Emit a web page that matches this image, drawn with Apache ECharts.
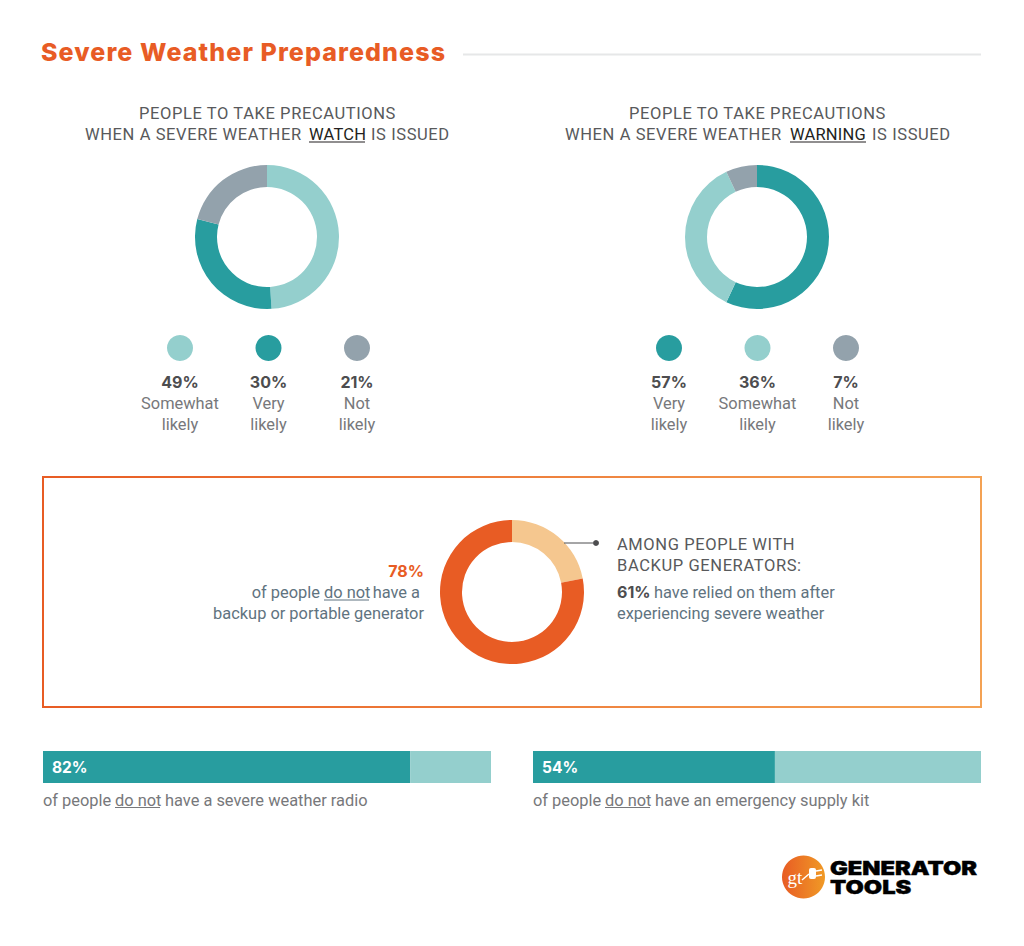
<!DOCTYPE html>
<html>
<head>
<meta charset="utf-8">
<title>Severe Weather Preparedness</title>
<style>
html, body { margin: 0; padding: 0; background: #fff; }
#main { width: 1024px; height: 946px; }
/* spaced out headings, picked by their fill */
#main text[fill="#58595b"] { letter-spacing: 0.6px; }
#main text[fill="#231f20"] { letter-spacing: 0.2px; }
#main text[fill="#e85c25"] { letter-spacing: 1.1px; }
</style>
</head>
<body>
<div id="main"></div>
<script src="https://cdn.jsdelivr.net/npm/echarts@6/dist/echarts.min.js"></script>
<script>
/* data */
var WATCH_NAMES = ['Somewhat likely', 'Very likely', 'Not likely'];
var WATCH_VALUES = [49, 30, 21];
var WARNING_NAMES = ['Very likely', 'Somewhat likely', 'Not likely'];
var WARNING_VALUES = [57, 36, 7];
var GENERATOR_NAMES = ['Have a generator', 'Do not have a generator'];
var GENERATOR_VALUES = [22, 78];
var RADIO_VALUES = [82, 18];
var KIT_VALUES = [54, 46];

/* colours */
var TEAL = '#289d9f';
var LIGHT_TEAL = '#94cfcd';
var GREY = '#93a2ac';
var ORANGE = '#e85c24';
var PEACH = '#f5c78f';
var COLORS = { 'Somewhat likely': LIGHT_TEAL, 'Very likely': TEAL, 'Not likely': GREY };

var BODY = 'Roboto, sans-serif';
var BOLD = 'Inter, sans-serif';
var HEAD_COLOR = '#58595b';
var SLATE = '#5f7380';
var MUTED = '#77787b';
var BODY_SIZE = 16.4;

function text(x, y, str, size, color, align, extra) {
	var style = {
		x: x, y: y, text: str,
		fill: color,
		font: (extra && extra.weight ? extra.weight + ' ' : '') + size + 'px ' + ((extra && extra.family) || BODY),
		textAlign: align || 'left',
		textVerticalAlign: 'middle'
	};
	return { type: 'text', z: 100, silent: true, style: style };
}

function line(x1, y1, x2, y2, color, width) {
	return { type: 'line', z: 100, silent: true, shape: { x1: x1, y1: y1, x2: x2, y2: y2 }, style: { stroke: color, lineWidth: width } };
}

function donut(center, radius, names, values, colors) {
	return {
		type: 'pie',
		center: center,
		radius: radius,
		startAngle: 90,
		clockwise: true,
		silent: true,
		label: { show: false },
		labelLine: { show: false },
		animation: false,
		data: names.map(function (n, i) {
			return { name: n, value: values[i], itemStyle: { color: colors[i] } };
		})
	};
}

function stackedBar(gridIndex, values) {
	return [TEAL, LIGHT_TEAL].map(function (c, i) {
		return {
			type: 'bar', stack: 's' + gridIndex, xAxisIndex: gridIndex, yAxisIndex: gridIndex,
			data: [values[i]], barWidth: 32, silent: true, animation: false,
			itemStyle: { color: c }
		};
	});
}

/* legend under a donut: dot, percent, two line name */
function legendRow(xs, names, values) {
	var out = [];
	names.forEach(function (n, i) {
		var p = n.split(' ');
		out.push({ type: 'circle', z: 100, silent: true, shape: { cx: xs[i], cy: 348, r: 13 }, style: { fill: COLORS[n] } });
		out.push(text(xs[i], 382, values[i] + '%', 16, '#4d4d4f', 'center', { weight: 700, family: BOLD }));
		out.push(text(xs[i], 403, p[0], BODY_SIZE, MUTED, 'center'));
		out.push(text(xs[i], 424, p[1], BODY_SIZE, MUTED, 'center'));
	});
	return out;
}

/* logo wordmark, the font is narrower than the original so it gets stretched */
function logoWord(y, str) {
	var t = text(0, 0, str, 18.5, '#000000', 'left', { weight: 900, family: BOLD });
	t.x = 830;
	t.y = y;
	t.scaleX = 1.28;
	t.style.stroke = '#000000';
	t.style.lineWidth = 0.4;
	return t;
}

var graphics = [
	text(41, 52, 'Severe Weather Preparedness', 25, '#e85c25', 'left', { weight: 800, family: BOLD }),
	line(463, 54.5, 981, 54.5, '#e6e7e8', 2),

	text(267.5, 113, 'PEOPLE TO TAKE PRECAUTIONS', 16.5, HEAD_COLOR, 'center'),
	text(85, 134, 'WHEN A SEVERE WEATHER', 16.5, HEAD_COLOR, 'left'),
	text(309, 134, 'WATCH', 16.5, '#231f20', 'left'),
	text(371, 134, 'IS ISSUED', 16.5, HEAD_COLOR, 'left'),
	line(309, 142, 365, 142, '#231f20', 1.2),

	text(757.5, 113, 'PEOPLE TO TAKE PRECAUTIONS', 16.5, HEAD_COLOR, 'center'),
	text(565, 134, 'WHEN A SEVERE WEATHER', 16.5, HEAD_COLOR, 'left'),
	text(790, 134, 'WARNING', 16.5, '#231f20', 'left'),
	text(872, 134, 'IS ISSUED', 16.5, HEAD_COLOR, 'left'),
	line(790, 142, 866, 142, '#231f20', 1.2),

	{
		type: 'rect', z: 100, silent: true, shape: { x: 43, y: 477, width: 938, height: 230 },
		style: {
			fill: 'none', lineWidth: 2,
			stroke: new echarts.graphic.LinearGradient(0, 0, 1, 0, [{ offset: 0, color: '#e85c24' }, { offset: 1, color: '#f4a254' }])
		}
	},

	text(424, 571, '78%', 16, ORANGE, 'right', { weight: 700, family: BOLD }),
	text(320, 592, 'of people', BODY_SIZE, SLATE, 'right'),
	text(324, 592, 'do not', BODY_SIZE, SLATE, 'left'),
	text(420, 592, 'have a', BODY_SIZE, SLATE, 'right'),
	line(324, 600, 369, 600, SLATE, 1),
	text(424, 613, 'backup or portable generator', BODY_SIZE, SLATE, 'right'),

	line(564, 543, 593, 543, '#4d4d4f', 1),
	{ type: 'circle', z: 100, silent: true, shape: { cx: 596, cy: 543, r: 3 }, style: { fill: '#4d4d4f' } },
	text(617, 544, 'AMONG PEOPLE WITH', 16.5, HEAD_COLOR, 'left'),
	text(617, 565, 'BACKUP GENERATORS:', 16.5, HEAD_COLOR, 'left'),
	text(617, 592, '61%', 16, '#4d4d4f', 'left', { weight: 700, family: BOLD }),
	text(654, 592, 'have relied on them after', BODY_SIZE, SLATE, 'left'),
	text(617, 613, 'experiencing severe weather', BODY_SIZE, SLATE, 'left'),

	text(52, 767, '82%', 15.5, '#ffffff', 'left', { weight: 700, family: BOLD }),
	text(43, 800, 'of people', BODY_SIZE, MUTED, 'left'),
	text(115, 800, 'do not', BODY_SIZE, MUTED, 'left'),
	text(165, 800, 'have a severe weather radio', BODY_SIZE, MUTED, 'left'),
	line(115, 807.5, 160, 807.5, MUTED, 1),

	text(542, 767, '54%', 15.5, '#ffffff', 'left', { weight: 700, family: BOLD }),
	text(533, 800, 'of people', BODY_SIZE, MUTED, 'left'),
	text(605, 800, 'do not', BODY_SIZE, MUTED, 'left'),
	text(655, 800, 'have an emergency supply kit', BODY_SIZE, MUTED, 'left'),
	line(605, 807.5, 650, 807.5, MUTED, 1),

	/* logo */
	{
		type: 'circle', z: 100, silent: true, shape: { cx: 803.5, cy: 877, r: 21.5 },
		style: { fill: new echarts.graphic.LinearGradient(0, 0, 1, 0, [{ offset: 0, color: '#e85c24' }, { offset: 1, color: '#f09a26' }]) }
	},
	text(795, 877, 'gt', 19, '#ffffff', 'center', { family: 'Liberation Serif, serif' }),
	{ type: 'rect', z: 100, silent: true, shape: { x: 809, y: 868, width: 7, height: 11, r: 2 }, style: { fill: '#fff' } },
	line(816, 871, 822, 870, '#fff', 1.5),
	line(816, 876, 822, 875, '#fff', 1.5),
	line(802, 880, 809, 874, '#fff', 1.5),
	logoWord(868.25, 'GENERATOR'),
	logoWord(886.75, 'TOOLS')
].concat(
	legendRow([180, 268.5, 357], WATCH_NAMES, WATCH_VALUES),
	legendRow([669, 757.5, 846], WARNING_NAMES, WARNING_VALUES)
);

var option = {
	backgroundColor: '#ffffff',
	animation: false,
	grid: [
		{ left: 43, top: 751, width: 448, height: 32 },
		{ left: 533, top: 751, width: 448, height: 32 }
	],
	xAxis: [
		{ type: 'value', gridIndex: 0, min: 0, max: 100, show: false },
		{ type: 'value', gridIndex: 1, min: 0, max: 100, show: false }
	],
	yAxis: [
		{ type: 'category', gridIndex: 0, data: ['radio'], show: false },
		{ type: 'category', gridIndex: 1, data: ['kit'], show: false }
	],
	series: [
		donut([267, 237], [50, 72], WATCH_NAMES, WATCH_VALUES, WATCH_NAMES.map(function (n) { return COLORS[n]; })),
		donut([757, 237], [50, 72], WARNING_NAMES, WARNING_VALUES, WARNING_NAMES.map(function (n) { return COLORS[n]; })),
		donut([512, 592], [50, 72], GENERATOR_NAMES, GENERATOR_VALUES, [PEACH, ORANGE])
	].concat(stackedBar(0, RADIO_VALUES), stackedBar(1, KIT_VALUES)),
	graphic: { elements: graphics }
};

var chart = echarts.init(document.getElementById('main'), null, { renderer: 'svg' });
chart.setOption(option);
</script>
</body>
</html>
